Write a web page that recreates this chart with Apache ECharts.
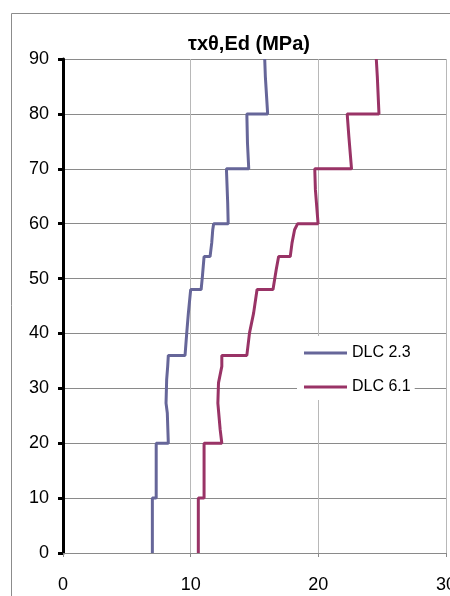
<!DOCTYPE html>
<html>
<head>
<meta charset="utf-8">
<script src="https://cdn.jsdelivr.net/npm/echarts@6/dist/echarts.min.js"></script>
<style>
  html, body { margin: 0; padding: 0; background: #fff; overflow: hidden; }
  #chart { width: 450px; height: 596px; display: block; }
</style>
</head>
<body>
<div id="chart"></div>
<script>
// Shear stress profiles along the height (step changes at section joints)
const seriesNames = ['DLC 2.3', 'DLC 6.1'];

const dlc23Height = [0, 10, 10, 20, 20, 25.5, 27.3, 31.6, 34, 36, 36, 40, 43.7, 48, 48, 50.4, 54, 54, 56.5, 58.9, 60, 60, 63.8, 70, 70, 74.7, 80, 80, 86.8, 90];
const dlc23Stress = [7.0, 7.0, 7.3, 7.3, 8.25, 8.17, 8.07, 8.12, 8.2, 8.25, 9.56, 9.69, 9.82, 10.0, 10.82, 10.92, 11.05, 11.52, 11.65, 11.73, 11.8, 12.94, 12.9, 12.8, 14.55, 14.45, 14.4, 16.03, 15.85, 15.8];

const dlc61Height = [0, 10, 10, 20, 20, 22.5, 27.3, 31, 34, 36, 36, 40.1, 43.7, 48, 48, 51.6, 54, 54, 56.5, 58.9, 60, 60, 66.2, 70, 70, 75.9, 80, 80, 86.8, 90];
const dlc61Stress = [10.6, 10.6, 11.05, 11.05, 12.44, 12.31, 12.13, 12.18, 12.44, 12.44, 14.4, 14.61, 14.93, 15.2, 16.45, 16.7, 16.89, 17.8, 17.94, 18.14, 18.38, 19.98, 19.77, 19.72, 22.6, 22.39, 22.26, 24.75, 24.62, 24.54];

const xTicks = { min: 0, max: 30, interval: 10 };
const yTicks = { min: 0, max: 90, interval: 10 };
const titleText = 'τxθ,Ed (MPa)';

const FONT = '"Liberation Sans", Arial, sans-serif';

function pairs(xs, ys) {
  return xs.map((x, i) => [x, ys[i]]);
}

const chart = echarts.init(document.getElementById('chart'), null, { renderer: 'canvas', width: 450, height: 596 });

chart.setOption({
  animation: false,
  backgroundColor: '#ffffff',
  title: {
    text: titleText,
    left: 244,
    top: 29,
    textAlign: 'center',
    textStyle: { fontFamily: FONT, fontSize: 20, fontWeight: 'bold', color: '#000' }
  },
  graphic: [{
    type: 'rect',
    z: -10,
    shape: { x: 11.5, y: 13.5, width: 600, height: 700 },
    style: { fill: 'none', stroke: '#8c8c8c', lineWidth: 1 }
  }],
  legend: {
    orient: 'vertical',
    left: 297,
    top: 336,
    padding: [9, 4, 5, 7],
    itemGap: 18,
    itemWidth: 43,
    itemHeight: 3,
    icon: 'rect',
    backgroundColor: '#ffffff',
    textStyle: { fontFamily: FONT, fontSize: 16, color: '#000' },
    data: seriesNames
  },
  grid: { left: 63, right: 4, top: 59, bottom: 43, containLabel: false, outerBoundsMode: 'none' },
  xAxis: {
    type: 'value',
    min: xTicks.min, max: xTicks.max, interval: xTicks.interval,
    axisLine: { show: true, onZero: false, lineStyle: { color: '#8a8a8a', width: 1 } },
    axisTick: { show: true, length: 4, lineStyle: { color: '#8a8a8a' } },
    axisLabel: { margin: 23, fontFamily: FONT, fontSize: 18, color: '#000', hideOverlap: false },
    splitLine: { show: true, lineStyle: { color: '#b8b8b8', width: 1 } }
  },
  yAxis: {
    type: 'value',
    min: yTicks.min, max: yTicks.max, interval: yTicks.interval,
    axisLine: { show: true, onZero: false, lineStyle: { color: '#000', width: 3 } },
    axisTick: { show: true, length: 5, lineStyle: { color: '#000', width: 3 } },
    axisLabel: { margin: 14, fontFamily: FONT, fontSize: 18, color: '#000' },
    splitLine: { show: true, lineStyle: { color: '#8a8a8a', width: 1 } }
  },
  series: [
    {
      name: seriesNames[0],
      type: 'line',
      data: pairs(dlc23Stress, dlc23Height),
      showSymbol: false,
      symbol: 'none',
      color: '#666699',
      lineStyle: { color: '#666699', width: 3 },
      z: 3
    },
    {
      name: seriesNames[1],
      type: 'line',
      data: pairs(dlc61Stress, dlc61Height),
      showSymbol: false,
      symbol: 'none',
      color: '#993366',
      lineStyle: { color: '#993366', width: 3 },
      z: 3
    }
  ]
});
</script>
</body>
</html>
